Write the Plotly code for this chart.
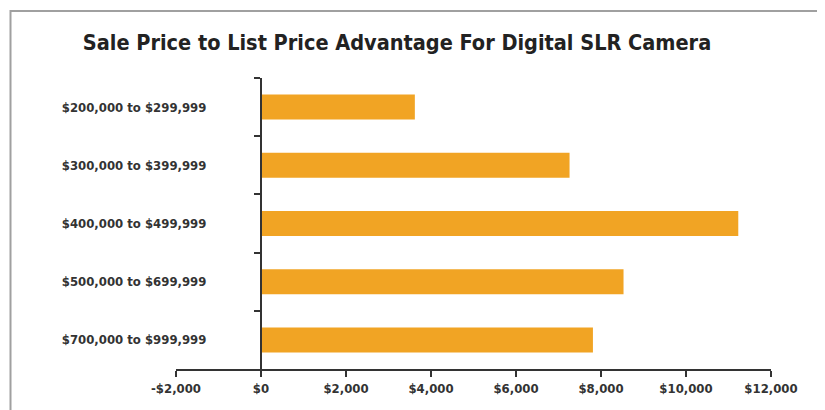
import plotly.graph_objects as go

categories = [
    "$200,000 to $299,999",
    "$300,000 to $399,999",
    "$400,000 to $499,999",
    "$500,000 to $699,999",
    "$700,000 to $999,999",
]
advantage = [3620, 7260, 11230, 8530, 7810]

x_tickvals = [-2000, 0, 2000, 4000, 6000, 8000, 10000, 12000]
x_ticktext = ["-$2,000", "$0", "$2,000", "$4,000", "$6,000", "$8,000", "$10,000", "$12,000"]

title_text = "Sale Price to List Price Advantage For Digital SLR Camera"

FONT = "DejaVu Sans Condensed, Liberation Sans Narrow, Arial Narrow, sans-serif"
DARK = "#333333"

# page body adds an 8px offset, so the figure is sized/positioned to compensate
W, H = 817, 402
ML, MR, MT, MB = 168, 54, 70, 41
pw = W - ML - MR
ph = H - MT - MB

def px_x(px):
    return (px - ML) / pw

def px_y(py):
    return (H - MB - py) / ph

fig = go.Figure(
    go.Bar(
        x=advantage,
        y=categories,
        orientation="h",
        marker=dict(color="#F1A424", line=dict(width=0)),
        hoverinfo="x+y",
    )
)

fig.update_layout(
    width=W,
    height=H,
    margin=dict(l=ML, r=MR, t=MT, b=MB),
    paper_bgcolor="white",
    plot_bgcolor="white",
    showlegend=False,
    bargap=0.57,
    font=dict(family=FONT, color=DARK),
    title=dict(
        text="<b>" + title_text + "</b>",
        font=dict(family=FONT, size=21.5, color="#222222"),
        xref="container", yref="container",
        x=389 / W, y=1 - 34 / H,
        xanchor="center", yanchor="middle",
    ),
    shapes=[
        dict(
            type="path",
            xref="paper", yref="paper",
            path=f"M {px_x(2.5)} {px_y(440)} L {px_x(2.5)} {px_y(3)} L {px_x(812)} {px_y(3)} L {px_x(812)} {px_y(440)}",
            line=dict(color="#a0a0a0", width=2),
        )
    ],
)

fig.update_xaxes(
    range=[-2000, 12000],
    tickvals=x_tickvals,
    ticktext=x_ticktext,
    ticks="outside",
    ticklen=6,
    tickwidth=2,
    tickcolor=DARK,
    showline=True,
    linecolor=DARK,
    linewidth=2,
    showgrid=False,
    zeroline=False,
    tickfont=dict(family=FONT, size=13, color=DARK, weight="bold"),
)

fig.update_yaxes(
    type="category",
    categoryorder="array",
    categoryarray=categories,
    autorange="reversed",
    anchor="free",
    position=2000 / 14000,
    showline=True,
    linecolor=DARK,
    linewidth=2,
    ticks="outside",
    tickson="boundaries",
    ticklen=6,
    tickwidth=2,
    tickcolor=DARK,
    showgrid=False,
    zeroline=False,
    ticklabelstandoff=51,
    tickfont=dict(family=FONT, size=13, color=DARK, weight="bold"),
)

fig.write_html("out.html")
